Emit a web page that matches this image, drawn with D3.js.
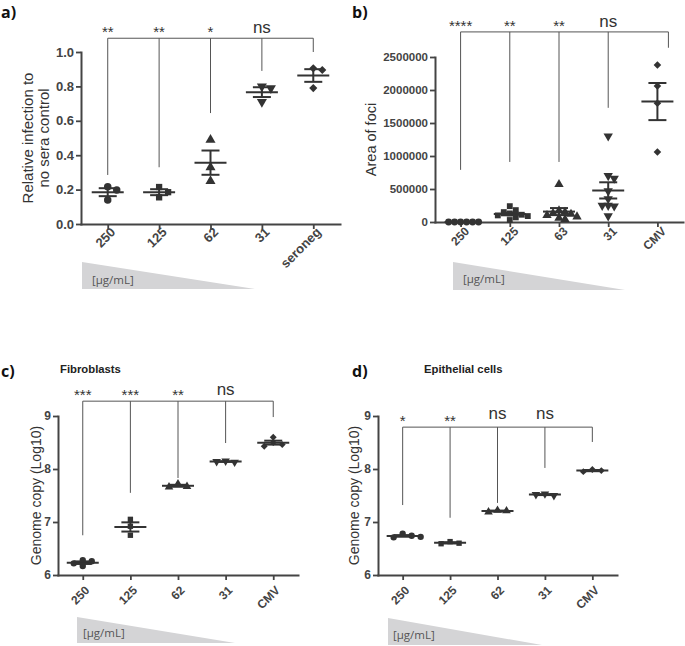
<!DOCTYPE html>
<html><head><meta charset="utf-8">
<script src="https://cdn.jsdelivr.net/npm/d3@7"></script>
<style>body{margin:0;background:#fff}svg{display:block}</style>
</head><body>
<svg id="chart" width="685" height="646"></svg>
<script>
// ---------- DATA ----------
// Panel a
const aCategories = ["250", "125", "62", "31", "seroneg"];
const aValues = [
  [0.217, 0.198, 0.14],
  [0.215, 0.185, 0.155],
  [0.49, 0.33, 0.25],
  [0.80, 0.79, 0.71],
  [0.905, 0.895, 0.79]
];
const aTicks = [0, 0.2, 0.4, 0.6, 0.8, 1.0];
const aSignif = ["**", "**", "*", "ns"];
const aBracketTop = 1.08;
const aBracketEnds = [0.285, 0.33, 0.645, 0.89, 1.0];

// Panel b
const bCategories = ["250", "125", "63", "31", "CMV"];
const bValues = [
  [0, 0, 0, 0, 0, 0],
  [240000, 180000, 150000, 130000, 110000, 100000, 90000, 70000, 30000],
  [570000, 170000, 150000, 130000, 120000, 100000, 80000, 60000, 40000],
  [1300000, 700000, 660000, 470000, 350000, 250000, 240000, 250000, 90000],
  [2380000, 2060000, 1800000, 1060000]
];
const bTicks = [0, 500000, 1000000, 1500000, 2000000, 2500000];
const bSignif = ["****", "**", "**", "ns"];
const bBracketTop = 2880000;
const bBracketEnds = [790000, 910000, 910000, 1730000, 2640000];

// Panels c and d
const cdCategories = ["250", "125", "62", "31", "CMV"];
const cdTicks = [6, 7, 8, 9];
const cValues = [
  [6.28, 6.26, 6.22, 6.17],
  [7.05, 6.92, 6.75],
  [7.72, 7.67, 7.66],
  [8.15, 8.13, 8.14],
  [8.60, 8.50, 8.46, 8.43]
];
const cSignif = ["***", "***", "**", "ns"];
const cBracketTop = 9.28;
const cBracketEnds = [6.75, 7.55, 7.83, 8.49, 8.98];

const dValues = [
  [6.78, 6.74, 6.71, 6.72],
  [6.63, 6.60, 6.59],
  [7.22, 7.21, 7.19],
  [7.53, 7.50, 7.52],
  [7.99, 7.97, 7.95]
];
const dSignif = ["*", "**", "ns", "ns"];
const dBracketTop = 8.79;
const dBracketEnds = [7.32, 7.08, 7.36, 8.02, 8.51];

// ---------- LAYOUT ----------
const svg = d3.select("#chart");
const INK = "#333";
const AXIS = "#444";
const FONT = "'Liberation Sans', Arial, sans-serif";

const shapes = [
  {type: d3.symbolCircle, rot: 0, k: 1},
  {type: d3.symbolSquare, rot: 0, k: 0.9},
  {type: d3.symbolTriangle, rot: 0, k: 1},
  {type: d3.symbolTriangle, rot: 180, k: 1},
  {type: d3.symbolSquare, rot: 45, k: 0.75}
];

// horizontal spreading of overlapping points (grid step s, collision distance dmin)
function beeswarm(vals, y, s, dmin) {
  const placed = [];
  return vals.map(v => {
    const py = y(v);
    let off = 0;
    for (let k = 0; k < 60; k++) {
      const cand = k === 0 ? 0 : (k % 2 ? 1 : -1) * Math.ceil(k / 2) * s;
      if (placed.every(p => Math.hypot(p[0] - cand, p[1] - py) >= dmin)) { off = cand; break; }
    }
    placed.push([off, py]);
    return off;
  });
}

const panels = [
  {label: "a)", lx: 1, ly: 18, cats: aCategories, values: aValues, ticks: aTicks, fmt: d3.format(".1f"),
   signif: aSignif, bTop: aBracketTop, bEnds: aBracketEnds, yDomain: [0, 1],
   x0: 81, x1: 340, yBottom: 224, yTop: 52, tickFont: 13, xFont: 13,
   xLab: [8, 9], titles: ["Relative infection to", "no sera control"], titleX: [33, 49], titleFont: 15,
   symSize: 44, swarm: 9, dmin: 7, nsGap: 5, lastShift: 0,
   wedge: [82, 262, 255, 289], unitPos: [92, 284]},
  {label: "b)", lx: 352, ly: 18, cats: bCategories, values: bValues, ticks: bTicks, fmt: d3.format("d"),
   signif: bSignif, bTop: bBracketTop, bEnds: bBracketEnds, yDomain: [0, 2500000],
   x0: 435, x1: 683, yBottom: 222, yTop: 57, tickFont: 11.5, xFont: 12,
   xLab: [9, 10], titles: ["Area of foci"], titleX: [376], titleFont: 14.5,
   symSize: 38, swarm: 6, dmin: 6, nsGap: 5, lastShift: 11,
   wedge: [453, 262, 625, 290], unitPos: [463, 283]},
  {label: "c)", lx: 1, ly: 377, cats: cdCategories, values: cValues, ticks: cdTicks, fmt: d3.format("d"),
   signif: cSignif, bTop: cBracketTop, bEnds: cBracketEnds, yDomain: [6, 9],
   x0: 58, x1: 298, yBottom: 575, yTop: 416, tickFont: 12, xFont: 12,
   xLab: [7, 16], titles: ["Genome copy (Log10)"], titleX: [41], titleFont: 14,
   symSize: 32, swarm: 9, dmin: 5, nsGap: 6, lastShift: 0,
   subtitle: "Fibroblasts", subPos: [60, 373],
   wedge: [77, 617, 235, 643], unitPos: [83, 637]},
  {label: "d)", lx: 352, ly: 377, cats: cdCategories, values: dValues, ticks: cdTicks, fmt: d3.format("d"),
   signif: dSignif, bTop: dBracketTop, bEnds: dBracketEnds, yDomain: [6, 9],
   x0: 378, x1: 617, yBottom: 575, yTop: 416, tickFont: 12, xFont: 12,
   xLab: [7, 16], titles: ["Genome copy (Log10)"], titleX: [359], titleFont: 14,
   symSize: 32, swarm: 9, dmin: 5, nsGap: 8, lastShift: 0,
   subtitle: "Epithelial cells", subPos: [424, 373],
   wedge: [388, 618, 542, 645], unitPos: [393, 639]}
];

function drawPanel(p) {
  const g = svg.append("g");
  const x = d3.scalePoint().domain(p.cats).range([p.x0, p.x1]).padding(0.52);
  const y = d3.scaleLinear().domain(p.yDomain).range([p.yBottom, p.yTop]);

  // panel label
  g.append("text").attr("x", p.lx).attr("y", p.ly).text(p.label)
    .attr("font-family", "'Open Sans', sans-serif").attr("font-weight", 700)
    .attr("font-size", 16).attr("fill", "#111");
  if (p.subtitle) {
    g.append("text").attr("x", p.subPos[0]).attr("y", p.subPos[1]).text(p.subtitle)
      .attr("font-family", FONT).attr("font-weight", 700).attr("font-size", 11.3).attr("fill", "#222");
  }

  // wedge
  const w = p.wedge;
  g.append("path").attr("d", `M${w[0]},${w[1]}L${w[0]},${w[3]}L${w[2]},${w[3]}Z`).attr("fill", "#d4d4d6");
  g.append("text").attr("x", p.unitPos[0]).attr("y", p.unitPos[1]).text("[µg/mL]")
    .attr("font-family", "'Open Sans', sans-serif").attr("font-size", 11.5).attr("fill", "#555");

  // y axis
  const ya = g.append("g").attr("transform", `translate(${p.x0},0)`)
    .call(d3.axisLeft(y).tickValues(p.ticks).tickFormat(p.fmt).tickSize(5).tickSizeOuter(0).tickPadding(2));
  ya.select(".domain").attr("stroke", AXIS).attr("stroke-width", 2).attr("stroke-linecap", "square");
  ya.selectAll(".tick line").attr("stroke", AXIS).attr("stroke-width", 1.8);
  ya.selectAll(".tick text").attr("font-family", FONT).attr("font-weight", 700)
    .attr("font-size", p.tickFont).attr("fill", AXIS);

  // x axis
  const xa = g.append("g").attr("transform", `translate(0,${p.yBottom})`)
    .call(d3.axisBottom(x).tickSize(5).tickSizeOuter(0));
  xa.select(".domain").attr("stroke", AXIS).attr("stroke-width", 2).attr("stroke-linecap", "square");
  xa.selectAll(".tick line").attr("stroke", AXIS).attr("stroke-width", 1.8);
  xa.selectAll(".tick text").attr("x", 0).attr("y", 0).attr("dy", 0)
    .attr("transform", `translate(${p.xLab[0]},${p.xLab[1]}) rotate(-45)`)
    .attr("text-anchor", "end").attr("font-family", FONT).attr("font-weight", 700)
    .attr("font-size", p.xFont).attr("fill", AXIS);

  // y title
  const yMid = (p.yTop + p.yBottom) / 2;
  p.titles.forEach((t, i) => {
    g.append("text").attr("transform", `translate(${p.titleX[i]},${yMid}) rotate(-90)`)
      .attr("text-anchor", "middle").text(t)
      .attr("font-family", FONT).attr("font-size", p.titleFont).attr("fill", INK);
  });

  // brackets
  const yb = y(p.bTop);
  const bx = p.cats.map((c, i) => x(c) + (i === p.cats.length - 1 ? p.lastShift : 0));
  g.append("line").attr("x1", bx[0]).attr("x2", bx[bx.length - 1]).attr("y1", yb).attr("y2", yb)
    .attr("stroke", "#555").attr("stroke-width", 1);
  p.bEnds.forEach((e, i) => {
    g.append("line").attr("x1", bx[i]).attr("x2", bx[i]).attr("y1", yb).attr("y2", y(e))
      .attr("stroke", "#555").attr("stroke-width", 1);
  });
  p.signif.forEach((s, i) => {
    const ns = s === "ns";
    g.append("text").attr("x", bx[i]).attr("y", ns ? yb - p.nsGap : yb - 1)
      .attr("text-anchor", "middle").text(s)
      .attr("font-family", FONT).attr("font-size", ns ? 17 : 15).attr("fill", INK);
  });

  // points and mean ± SEM
  p.values.forEach((vals, i) => {
    const cx = x(p.cats[i]);
    const offs = beeswarm(vals, y, p.swarm, p.dmin);
    const sh = shapes[i];
    const sym = d3.symbol().type(sh.type).size(p.symSize * sh.k);
    vals.forEach((v, j) => {
      g.append("path").attr("d", sym())
        .attr("transform", `translate(${cx + offs[j]},${y(v)}) rotate(${sh.rot})`)
        .attr("fill", INK);
    });
    const m = d3.mean(vals);
    const sem = vals.length > 1 ? d3.deviation(vals) / Math.sqrt(vals.length) : 0;
    const lw = 2;
    g.append("line").attr("x1", cx - 16).attr("x2", cx + 16).attr("y1", y(m)).attr("y2", y(m))
      .attr("stroke", INK).attr("stroke-width", lw);
    g.append("line").attr("x1", cx).attr("x2", cx).attr("y1", y(m - sem)).attr("y2", y(m + sem))
      .attr("stroke", INK).attr("stroke-width", lw);
    [m - sem, m + sem].forEach(v => {
      g.append("line").attr("x1", cx - 9).attr("x2", cx + 9).attr("y1", y(v)).attr("y2", y(v))
        .attr("stroke", INK).attr("stroke-width", lw);
    });
  });
}

panels.forEach(drawPanel);
</script>
</body></html>
